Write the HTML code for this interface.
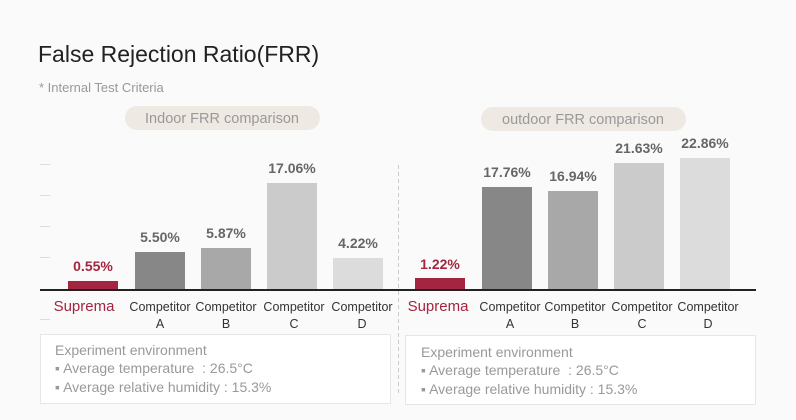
<!DOCTYPE html>
<html><head><meta charset="utf-8"><style>
html,body{margin:0;padding:0;background:#fafafa;}
svg{display:block;font-family:"Liberation Sans",sans-serif;}
</style></head><body>
<svg width="796" height="420" viewBox="0 0 796 420">
<rect width="796" height="420" fill="#fafafa"/>
<text x="38" y="62" font-size="23" fill="#222">False Rejection Ratio(FRR)</text>
<text x="39" y="92" font-size="13" fill="#999">* Internal Test Criteria</text>
<rect x="125" y="106" width="195" height="24" rx="12" fill="#efe9e3"/>
<text x="222" y="123" font-size="14.5" fill="#999" text-anchor="middle">Indoor FRR comparison</text>
<rect x="481" y="107" width="205" height="24" rx="12" fill="#efe9e3"/>
<text x="583" y="124" font-size="14.5" fill="#999" text-anchor="middle">outdoor FRR comparison</text>
<g stroke="#ddd" stroke-width="1">
<line x1="40" y1="164.5" x2="50" y2="164.5"/><line x1="40" y1="195.5" x2="50" y2="195.5"/>
<line x1="40" y1="226.5" x2="50" y2="226.5"/><line x1="40" y1="257.5" x2="50" y2="257.5"/>
<line x1="40" y1="319.5" x2="50" y2="319.5"/>
</g>
<line x1="398.5" y1="165" x2="398.5" y2="395" stroke="#ccc" stroke-dasharray="4,3"/>
<rect x="68" y="281" width="50" height="9" fill="#a3253f"/>
<rect x="135" y="252" width="50" height="38" fill="#878787"/>
<rect x="201" y="248" width="50" height="42" fill="#a8a8a8"/>
<rect x="267" y="183" width="50" height="107" fill="#cbcbcb"/>
<rect x="333" y="258" width="50" height="32" fill="#dcdcdc"/>
<rect x="415" y="278" width="50" height="12" fill="#a3253f"/>
<rect x="482" y="187" width="50" height="103" fill="#878787"/>
<rect x="548" y="191" width="50" height="99" fill="#a8a8a8"/>
<rect x="614" y="163" width="50" height="127" fill="#cbcbcb"/>
<rect x="680" y="158" width="50" height="132" fill="#dcdcdc"/>
<line x1="40" y1="290" x2="756" y2="290" stroke="#222" stroke-width="2"/>
<g font-size="14" font-weight="bold" text-anchor="middle" fill="#666">
<text x="93" y="271" fill="#a3253f">0.55%</text>
<text x="160" y="242">5.50%</text>
<text x="226" y="238">5.87%</text>
<text x="292" y="173">17.06%</text>
<text x="358" y="248">4.22%</text>
<text x="440" y="269" fill="#a3253f">1.22%</text>
<text x="507" y="177">17.76%</text>
<text x="573" y="181">16.94%</text>
<text x="639" y="153">21.63%</text>
<text x="705" y="148">22.86%</text>
</g>
<g font-size="12.5" text-anchor="middle" fill="#333">
<text x="84" y="311" font-size="15" fill="#a3253f">Suprema</text>
<text x="160" y="311">Competitor</text><text x="160" y="328">A</text>
<text x="226" y="311">Competitor</text><text x="226" y="328">B</text>
<text x="294" y="311">Competitor</text><text x="294" y="328">C</text>
<text x="362" y="311">Competitor</text><text x="362" y="328">D</text>
<text x="438" y="311" font-size="15" fill="#a3253f">Suprema</text>
<text x="510" y="311">Competitor</text><text x="510" y="328">A</text>
<text x="575" y="311">Competitor</text><text x="575" y="328">B</text>
<text x="642" y="311">Competitor</text><text x="642" y="328">C</text>
<text x="708" y="311">Competitor</text><text x="708" y="328">D</text>
</g>
<rect x="40.5" y="334.5" width="350" height="69" fill="#fff" stroke="#e6e6e6"/>
<rect x="405.5" y="335.5" width="350" height="69" fill="#fff" stroke="#e6e6e6"/>
<g font-size="14" fill="#999">
<text x="55" y="355">Experiment environment</text>
<text x="55" y="373" xml:space="preserve">▪ Average temperature  : 26.5°C</text>
<text x="55" y="392">▪ Average relative humidity : 15.3%</text>
<text x="421" y="357">Experiment environment</text>
<text x="421" y="375" xml:space="preserve">▪ Average temperature  : 26.5°C</text>
<text x="421" y="394">▪ Average relative humidity : 15.3%</text>
</g>
</svg>
</body></html>
